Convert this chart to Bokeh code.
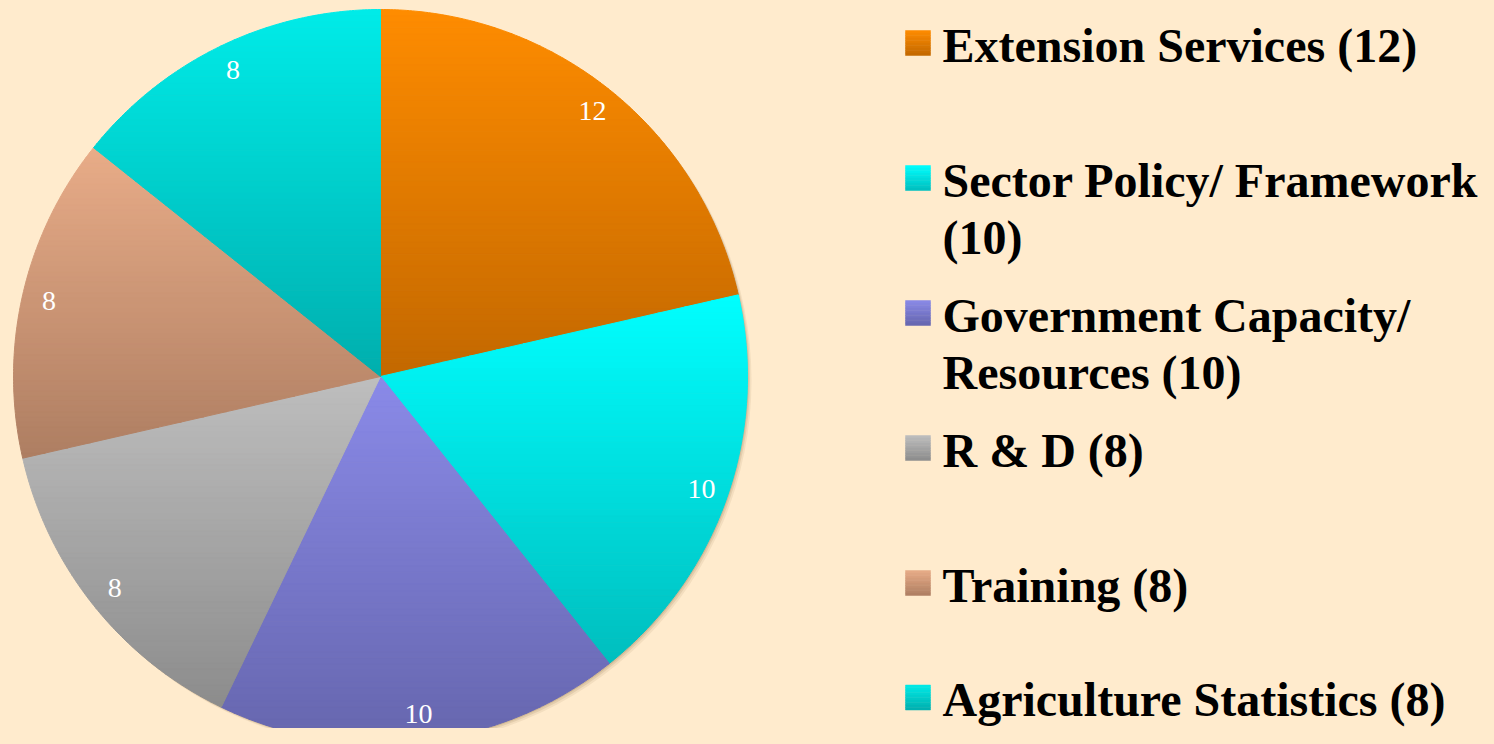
import math
from bokeh.plotting import figure
from bokeh.models import Range1d
from bokeh.core.properties import value
from bokeh.embed import file_html
from bokeh.resources import INLINE

# ---- data ----
categories = ["Extension Services", "Sector Policy/ Framework", "Government Capacity/ Resources",
              "R & D", "Training", "Agriculture Statistics"]
values = [12, 10, 10, 8, 8, 8]
legend_lines = [["Extension Services (12)"],
                ["Sector Policy/ Framework", "(10)"],
                ["Government Capacity/", "Resources (10)"],
                ["R & D (8)"],
                ["Training (8)"],
                ["Agriculture Statistics (8)"]]
# gradient colours (top, bottom) per slice
top_colors = [(255, 140, 0), (0, 255, 255), (138, 138, 232), (190, 190, 190), (232, 172, 136), (0, 236, 232)]
bottom_colors = [(194, 104, 0), (0, 190, 190), (102, 102, 174), (140, 140, 140), (174, 126, 98), (0, 174, 174)]

BG = "#FFEBCD"
W, H = 1478, 728
CX, CY, R = 380.0, 376.0, 367.0
LABEL_R = 340.0

p = figure(width=W, height=H, x_range=Range1d(0, W), y_range=Range1d(H, 0),
           output_backend="svg", toolbar_location=None,
           x_axis_location=None, y_axis_location=None, min_border=0,
           background_fill_color=BG, border_fill_color=BG, outline_line_color=None)
p.grid.visible = False


def hexc(c):
    return "#%02x%02x%02x" % tuple(int(round(v)) for v in c)


def lerp(a, b, t):
    return tuple(a[i] + (b[i] - a[i]) * t for i in range(3))


def clip(poly, yv, keep_greater):
    out = []
    n = len(poly)
    for i in range(n):
        a = poly[i]
        b = poly[(i + 1) % n]
        ina = a[1] >= yv if keep_greater else a[1] <= yv
        inb = b[1] >= yv if keep_greater else b[1] <= yv
        if ina:
            out.append(a)
        if ina != inb:
            t = (yv - a[1]) / (b[1] - a[1])
            out.append((a[0] + t * (b[0] - a[0]), yv))
    return out


# soft shadow
for off, alpha in [(4, 0.10), (2.5, 0.15), (1.2, 0.2)]:
    p.circle(x=[CX + off], y=[CY + off], radius=R, fill_color="#8a6a40",
             fill_alpha=alpha, line_color=None)

total = float(sum(values))
xs_all, ys_all, cols_all = [], [], []
lx, ly, ltxt = [], [], []
start = 0.0
for i, v in enumerate(values):
    a0 = start
    a1 = start + v / total * 360.0
    start = a1
    nseg = max(4, int((a1 - a0) / 0.5))
    poly = [(CX, CY)]
    for k in range(nseg + 1):
        th = math.radians(a0 + (a1 - a0) * k / nseg)
        poly.append((CX + R * math.sin(th), CY - R * math.cos(th)))
    ymin = min(pt[1] for pt in poly)
    ymax = max(pt[1] for pt in poly)
    nb = 60
    for b in range(nb):
        y0 = ymin + (ymax - ymin) * b / nb
        y1 = ymin + (ymax - ymin) * (b + 1) / nb
        part = clip(clip(poly, y0, True), y1, False)
        if len(part) < 3:
            continue
        xs_all.append([pt[0] for pt in part])
        ys_all.append([pt[1] for pt in part])
        cols_all.append(hexc(lerp(top_colors[i], bottom_colors[i], (b + 0.5) / nb)))
    mid = math.radians((a0 + a1) / 2)
    lx.append(CX + LABEL_R * math.sin(mid))
    ly.append(CY - LABEL_R * math.cos(mid))
    ltxt.append(str(v))

p.patches(xs=xs_all, ys=ys_all, fill_color=cols_all, line_color=cols_all, line_width=1)

p.text(x=lx, y=ly, text=ltxt, text_color="white", text_font=value("Liberation Serif"),
       text_font_size="28px", text_align="center", text_baseline="middle")

# legend
sq_x0, sq_size = 905.0, 25.0
txt_x = 942.0
sq_centers = [42.5, 177.5, 312.5, 447.5, 582.5, 697.0]
line_gap = 57.0
qx0, qx1, qt, qb, qc = [], [], [], [], []
tx, ty, tt = [], [], []
for i, lines in enumerate(legend_lines):
    c = sq_centers[i]
    nb = 10
    for b in range(nb):
        qx0.append(sq_x0)
        qx1.append(sq_x0 + sq_size)
        qt.append(c - sq_size / 2 + sq_size * b / nb)
        qb.append(c - sq_size / 2 + sq_size * (b + 1) / nb)
        qc.append(hexc(lerp(top_colors[i], bottom_colors[i], (b + 0.5) / nb)))
    for j, ln in enumerate(lines):
        tx.append(txt_x)
        ty.append(c + 2 + j * line_gap)
        tt.append(ln)

p.quad(left=qx0, right=qx1, top=qt, bottom=qb, fill_color=qc, line_color=qc, line_width=0.5)
p.text(x=tx, y=ty, text=tt, text_color="black", text_font=value("Liberation Serif"),
       text_font_style="bold", text_font_size="48px", text_align="left",
       text_baseline="middle")

html = file_html(p, INLINE)
html = html.replace("<head>", "<head><style>html,body{background-color:#FFEBCD;}</style>", 1)
open("out.html", "w").write(html)
